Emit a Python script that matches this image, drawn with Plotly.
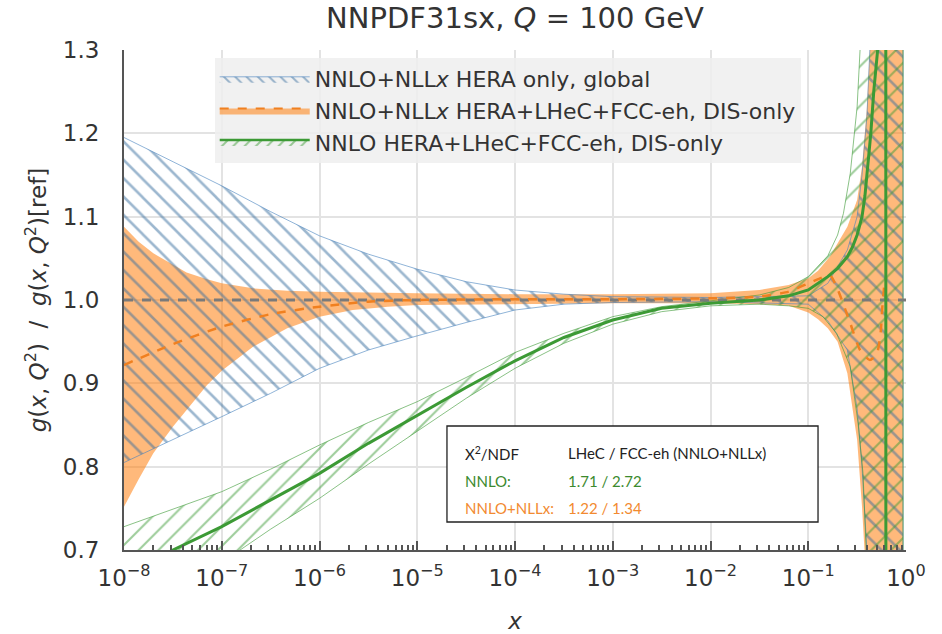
import plotly.graph_objects as go

# ---------------- data (log10 x, ratio values) ----------------
blue_logx = [-8, -7.5, -7, -6.5, -6, -5.5, -5, -4.5, -4, -3.5, -3, -2, -1, -0.8, -0.6, -0.5, -0.45, -0.4, -0.37, -0.3, -0.03]
blue_up   = [1.195, 1.166, 1.137, 1.106, 1.077, 1.055, 1.037, 1.022, 1.012, 1.007, 1.004, 1.003, 1.005, 1.02, 1.06, 1.10, 1.15, 1.22, 1.3, 2.0, 3.0]
blue_lo   = [0.805, 0.833, 0.86, 0.888, 0.918, 0.94, 0.957, 0.973, 0.988, 0.995, 0.997, 0.998, 0.995, 0.975, 0.94, 0.87, 0.80, 0.70, 0.5, 0.0, -1.0]

or_logx_up = [-8, -7.85, -7.7, -7.5, -7.36, -7.15, -7, -6.68, -6.33, -6, -5.5, -5, -4, -3, -2, -1.5, -1.2, -1, -0.9, -0.78, -0.6, -0.5, -0.45, -0.4, -0.37, -0.3, -0.03]
or_up      = [1.088, 1.07, 1.056, 1.042, 1.033, 1.025, 1.02, 1.014, 1.011, 1.01, 1.009, 1.008, 1.007, 1.007, 1.008, 1.012, 1.018, 1.026, 1.035, 1.052, 1.088, 1.12, 1.16, 1.23, 1.3, 2.0, 3.0]
or_logx_lo = [-8, -7.85, -7.7, -7.5, -7.36, -7.15, -7, -6.68, -6.33, -6, -5.66, -5.3, -5, -4, -3, -2, -1.5, -1.2, -1, -0.9, -0.8, -0.7, -0.6, -0.5, -0.45, -0.42, -0.37, -0.3, -0.03]
or_lo      = [0.752, 0.785, 0.816, 0.848, 0.868, 0.898, 0.915, 0.944, 0.966, 0.98, 0.988, 0.992, 0.994, 0.995, 0.996, 0.996, 0.995, 0.993, 0.985, 0.977, 0.966, 0.95, 0.912, 0.832, 0.752, 0.69, 0.4, 0.0, -1.0]
or_logx_c  = [-8, -7.5, -7, -6.5, -6, -5.5, -5, -4, -3, -2, -1.5, -1.2, -1, -0.88, -0.78, -0.71, -0.57, -0.47, -0.37, -0.3, -0.26, -0.24, -0.22]
or_c       = [0.922, 0.947, 0.968, 0.983, 0.992, 0.998, 1.0, 1.001, 1.001, 1.002, 1.004, 1.01, 1.02, 1.026, 1.03, 1.016, 0.972, 0.94, 0.928, 0.935, 0.96, 0.995, 1.02]

gr_logx_up = [-8, -7.5, -7, -6.5, -6, -5.5, -5, -4.5, -4, -3.5, -3, -2.5, -2, -1.5, -1.2, -1, -0.8, -0.7, -0.64, -0.57, -0.5, -0.47, -0.4, -0.03]
gr_up      = [0.728, 0.749, 0.77, 0.797, 0.826, 0.853, 0.878, 0.907, 0.937, 0.96, 0.98, 0.992, 0.999, 1.006, 1.015, 1.028, 1.053, 1.078, 1.104, 1.152, 1.232, 1.3, 2.0, 3.0]
gr_logx_lo = [-8, -7.5, -7, -6.5, -6, -5.5, -5, -4.5, -4, -3.5, -3, -2.5, -2, -1.5, -1.2, -1, -0.85, -0.71, -0.57, -0.49, -0.44, -0.4, -0.35, -0.03]
gr_lo      = [0.60, 0.64, 0.685, 0.725, 0.762, 0.803, 0.843, 0.882, 0.918, 0.948, 0.971, 0.986, 0.993, 0.995, 0.993, 0.99, 0.98, 0.96, 0.92, 0.852, 0.792, 0.68, 0.3, -1.0]
gr_logx_c  = [-8, -7.5, -7, -6.5, -6, -5.5, -5, -4.5, -4, -3.5, -3, -2.5, -2, -1.5, -1.2, -1, -0.8, -0.7, -0.6, -0.55, -0.5, -0.45, -0.42, -0.39, -0.36, -0.33, -0.29, -0.25, -0.21, -0.2, -0.03]
gr_c       = [0.665, 0.70, 0.728, 0.76, 0.792, 0.828, 0.862, 0.895, 0.927, 0.955, 0.976, 0.99, 0.996, 1.0, 1.005, 1.012, 1.028, 1.038, 1.052, 1.063, 1.078, 1.1, 1.125, 1.16, 1.2, 1.25, 1.3, 1.5, 4.0, -4.0, -4.0]

ref_value = 1.0
x_decades = [-8, -7, -6, -5, -4, -3, -2, -1, 0]
y_ticks = [0.7, 0.8, 0.9, 1.0, 1.1, 1.2, 1.3]

legend_names = ["NNLO+NLL<i>x</i> HERA only, global",
                "NNLO+NLL<i>x</i> HERA+LHeC+FCC-eh, DIS-only",
                "NNLO HERA+LHeC+FCC-eh, DIS-only"]

# ---------------- colours ----------------
BLUE = "#3a6f9f"
BLUE_EDGE = "rgba(70,130,190,0.6)"
ORANGE_FILL = "rgba(255,127,14,0.55)"
ORANGE_LINE = "#f08020"
GREEN = "#3c9a35"
GREEN_EDGE = "rgba(60,154,53,0.6)"
GREY = "#7a7a7a"


def xs(lx):
    return [10 ** v for v in lx]


def polygon(lx_up, up, lx_lo, lo):
    return xs(lx_up) + xs(lx_lo)[::-1], list(up) + list(lo)[::-1]


fig = go.Figure()

# orange solid band
px, py = polygon(or_logx_up, or_up, or_logx_lo, or_lo)
fig.add_trace(go.Scatter(x=px, y=py, fill="toself", fillcolor=ORANGE_FILL,
                         line=dict(width=0), mode="lines", showlegend=False, hoverinfo="skip"))

# blue hatched band
px, py = polygon(blue_logx, blue_up, blue_logx, blue_lo)
fig.add_trace(go.Scatter(x=px, y=py, fill="toself", fillcolor="rgba(0,0,0,0)",
                         fillpattern=dict(shape="\\", fgcolor=BLUE, bgcolor="rgba(0,0,0,0)",
                                          size=13, solidity=0.2),
                         line=dict(width=1, color=BLUE_EDGE), mode="lines",
                         showlegend=False, hoverinfo="skip"))

# green hatched band
px, py = polygon(gr_logx_up, gr_up, gr_logx_lo, gr_lo)
fig.add_trace(go.Scatter(x=px, y=py, fill="toself", fillcolor="rgba(0,0,0,0)",
                         fillpattern=dict(shape="/", fgcolor=GREEN, bgcolor="rgba(0,0,0,0)",
                                          size=14, solidity=0.15),
                         line=dict(width=1, color=GREEN_EDGE), mode="lines",
                         showlegend=False, hoverinfo="skip"))

# reference line
fig.add_trace(go.Scatter(x=xs([x_decades[0], x_decades[-1]]), y=[ref_value, ref_value], mode="lines",
                         line=dict(color=GREY, width=3, dash="dash"), showlegend=False, hoverinfo="skip"))

# orange dashed central
fig.add_trace(go.Scatter(x=xs(or_logx_c), y=or_c, mode="lines", line_shape="spline",
                         line=dict(color=ORANGE_LINE, width=2.5, dash="dash", smoothing=0.6),
                         showlegend=False, hoverinfo="skip"))

# green central
fig.add_trace(go.Scatter(x=xs(gr_logx_c), y=gr_c, mode="lines",
                         line=dict(color=GREEN, width=3), showlegend=False, hoverinfo="skip"))

# legend entries
fig.add_trace(go.Scatter(x=[None], y=[None], fill="toself", fillcolor="rgba(0,0,0,0)",
                         fillpattern=dict(shape="\\", fgcolor=BLUE, bgcolor="rgba(0,0,0,0)", size=8, solidity=0.25),
                         mode="lines", line=dict(width=1, color=BLUE_EDGE), name=legend_names[0]))
fig.add_trace(go.Scatter(x=[None], y=[None], fill="toself", fillcolor=ORANGE_FILL,
                         mode="lines", line=dict(width=2, color=ORANGE_LINE, dash="dash"), name=legend_names[1]))
fig.add_trace(go.Scatter(x=[None], y=[None], fill="toself", fillcolor="rgba(0,0,0,0)",
                         fillpattern=dict(shape="/", fgcolor=GREEN, bgcolor="rgba(0,0,0,0)", size=8, solidity=0.25),
                         mode="lines", line=dict(width=2.5, color=GREEN), name=legend_names[2]))

axis_font = dict(family="DejaVu Sans", size=23, color="#333333")

fig.update_layout(
    width=942, height=634,
    margin=dict(l=124, r=36, t=50, b=84, autoexpand=False),
    paper_bgcolor="white", plot_bgcolor="white",
    title=dict(text="NNPDF31sx, <i>Q</i> = 100 GeV", x=0.5, xref="paper", y=0.972, yref="container",
               xanchor="center", yanchor="middle",
               font=dict(family="DejaVu Sans", size=29, color="#333333")),
    font=dict(family="DejaVu Sans", color="#333333"),
    legend=dict(x=0.116, y=0.984, xanchor="left", yanchor="top",
                bgcolor="rgba(238,238,238,0.85)", borderwidth=0,
                font=dict(family="DejaVu Sans", size=22, color="#333333"),
                tracegroupgap=0, itemwidth=90),
    xaxis=dict(type="log", range=[x_decades[0], x_decades[-1]], automargin=False,
               tickvals=xs(x_decades),
               ticktext=["10<sup>%s</sup>" % (str(d).replace("-", "\u2212")) for d in x_decades],
               tickfont=axis_font, ticks="inside", ticklen=9, tickwidth=1.5, tickcolor="#555555",
               ticklabelstandoff=6,
               showgrid=True, gridcolor="#e3e3e3", gridwidth=1.5,
               showline=True, linecolor="#555555", linewidth=2, zeroline=False,
               minor=dict(tickvals=[m * 10 ** d for d in x_decades[:-1] for m in range(2, 10)],
                          ticks="inside", ticklen=5, tickcolor="#555555", showgrid=False),
               title=dict(text="<i>x</i>", font=dict(family="DejaVu Sans", size=23, color="#333333"),
                          standoff=24)),
    yaxis=dict(range=[y_ticks[0], y_ticks[-1]], tickvals=y_ticks, tickformat=".1f", automargin=False,
               tickfont=axis_font, ticks="", ticklabelstandoff=18,
               showgrid=True, gridcolor="#e3e3e3", gridwidth=1.5,
               showline=True, linecolor="#555555", linewidth=2, zeroline=False,
               title=dict(text="<i>g</i>(<i>x</i>, <i>Q</i><sup>2</sup>)  /  <i>g</i>(<i>x</i>, <i>Q</i><sup>2</sup>)[ref]",
                          font=dict(family="DejaVu Sans", size=23, color="#333333"), standoff=10)),
)

# chi2 box
fig.add_shape(type="rect", xref="paper", yref="paper", x0=0.413, x1=0.8875, y0=0.056, y1=0.248,
              line=dict(color="#222222", width=1.3), fillcolor="white", layer="above")

box_font = "Lato"
rows = [("X<sup>2</sup>/NDF", "LHeC / FCC-eh (NNLO+NLLx)", "#222222", 0.194),
        ("NNLO:", "1.71 / 2.72", "#3c8a2e", 0.138),
        ("NNLO+NLLx:", "1.22 / 1.34", "#f28a30", 0.084)]
for left, right, col, yy in rows:
    fig.add_annotation(x=0.4335, y=yy, xref="paper", yref="paper", text=left, showarrow=False,
                       xanchor="left", yanchor="middle", font=dict(family=box_font, size=15, color=col))
    fig.add_annotation(x=0.565, y=yy, xref="paper", yref="paper", text=right, showarrow=False,
                       xanchor="left", yanchor="middle", font=dict(family=box_font, size=15, color=col))

fig.write_html("out.html")
